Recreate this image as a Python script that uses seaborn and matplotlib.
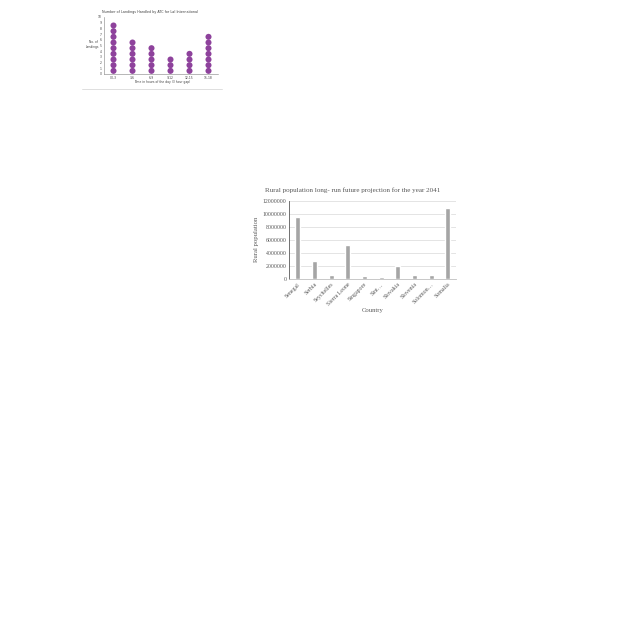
import matplotlib
matplotlib.use("Agg")
import matplotlib.pyplot as plt
import seaborn as sns
import pandas as pd
import numpy as np

# ---- data: dot plot ----
time_slots = ["00-3", "3-6", "6-9", "9-12", "12-15", "15-18"]
landings = [9, 6, 5, 3, 4, 7]

# ---- data: bar chart ----
countries = ["Senegal", "Serbia", "Seychelles", "Sierra Leone", "Singapore",
             "Sint…", "Slovakia", "Slovenia", "Solomon…", "Somalia"]
rural_pop = [9450000, 2750000, 600000, 5200000, 500000,
             350000, 1950000, 600000, 550000, 10900000]
y_ticks = [0, 2000000, 4000000, 6000000, 8000000, 10000000, 12000000]

sns.set_theme(style="white")
plt.rcParams["font.family"] = ["DejaVu Sans"]

W = H = 640
fig = plt.figure(figsize=(6.4, 6.4), dpi=100)

def fx(px):
    return px / W

def fy(py):
    return 1 - py / H

# ---------- top dot plot ----------
ax1 = fig.add_axes([fx(104), fy(73.7), fx(218) - fx(104), fy(17) - fy(73.7)])
rows = []
for slot, n in zip(time_slots, landings):
    for k in range(n):
        rows.append({"slot": slot, "level": k + 0.5})
dots = pd.DataFrame(rows)
dots["slot"] = pd.Categorical(dots["slot"], categories=time_slots)
dots["x"] = dots["slot"].cat.codes
sns.scatterplot(data=dots, x="x", y="level", ax=ax1, color="#8e429c",
                s=19, edgecolor="none", legend=False)
ax1.set_xlim(-0.5, len(time_slots) - 0.5)
ax1.set_ylim(0, 10)
ax1.set_xticks(range(len(time_slots)))
ax1.set_xticklabels(time_slots, fontsize=2.2, color="#404040")
ax1.set_yticks(range(0, 11))
ax1.set_yticklabels([str(v) for v in range(0, 11)], fontsize=2.2, color="#404040")
ax1.tick_params(axis="both", length=0, pad=1.5)
ax1.set_xlabel("")
ax1.set_ylabel("")
for s in ["top", "right"]:
    ax1.spines[s].set_visible(False)
for s in ["left", "bottom"]:
    ax1.spines[s].set_color("#808080")
    ax1.spines[s].set_linewidth(0.4)
fig.text(fx(150), fy(12.5), "Number of Landings Handled by ATC for Lal International",
         ha="center", va="center", fontsize=2.4, color="#404040")
fig.text(fx(162), fy(82), "Time in hours of the day (3 hour gap)",
         ha="center", va="center", fontsize=2.2, color="#404040")
fig.text(fx(93), fy(44.5), "No. of\nLandings", ha="center", va="center",
         fontsize=2.2, color="#404040", linespacing=1.1)
fig.add_artist(plt.Line2D([fx(82), fx(222)], [fy(88.5), fy(88.5)],
                          color="#d9d9d9", linewidth=0.6))

# ---------- bottom bar chart ----------
serif = ["Liberation Serif", "DejaVu Serif"]
ax2 = fig.add_axes([fx(289.4), fy(279), fx(456) - fx(289.4), fy(200.7) - fy(279)])
bars = pd.DataFrame({"Country": countries, "Rural population": rural_pop})
sns.barplot(data=bars, x="Country", y="Rural population", ax=ax2,
            color="#a5a5a5", saturation=1, width=0.3)
ax2.set_ylim(0, 12000000)
ax2.set_yticks(y_ticks)
ax2.set_yticklabels([str(v) for v in y_ticks], fontsize=4.2, color="#595959",
                    family=serif)
ax2.set_xticks(range(len(countries)))
ax2.set_xticklabels(countries, rotation=45, ha="right", rotation_mode="anchor",
                    fontsize=4.2, color="#595959", family=serif)
ax2.tick_params(axis="both", length=0, pad=2)
ax2.yaxis.grid(True, color="#d9d9d9", linewidth=0.5)
ax2.set_axisbelow(True)
ax2.set_xlabel("Country", fontsize=4.8, color="#595959", family=serif, labelpad=1)
ax2.set_ylabel("Rural population", fontsize=4.8, color="#595959", family=serif,
               labelpad=3)
for s in ["top", "right"]:
    ax2.spines[s].set_visible(False)
ax2.spines["left"].set_color("#595959")
ax2.spines["left"].set_linewidth(0.6)
ax2.spines["bottom"].set_color("#bfbfbf")
ax2.spines["bottom"].set_linewidth(0.6)
fig.text(fx(353), fy(190.5), "Rural population long- run future projection for the year 2041",
         ha="center", va="center", fontsize=5.1, color="#595959", family=serif)

fig.savefig("out.png", dpi=100, facecolor="white")
